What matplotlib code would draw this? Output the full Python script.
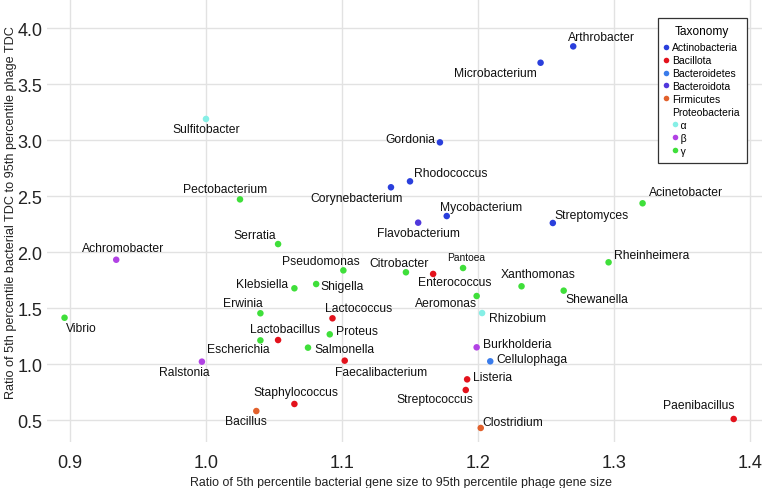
import matplotlib
matplotlib.use("Agg")
import matplotlib.pyplot as plt
from matplotlib.lines import Line2D

plt.rcParams["font.family"] = ["Liberation Sans", "DejaVu Sans"]

# data
genera = ["Arthrobacter", "Microbacterium", "Sulfitobacter", "Gordonia", "Rhodococcus",
          "Corynebacterium", "Pectobacterium", "Acinetobacter", "Mycobacterium",
          "Flavobacterium", "Streptomyces", "Serratia", "Achromobacter", "Rheinheimera",
          "Pantoea", "Pseudomonas", "Citrobacter", "Enterococcus", "Shigella",
          "Xanthomonas", "Klebsiella", "Shewanella", "Aeromonas", "Rhizobium", "Erwinia",
          "Vibrio", "Lactococcus", "Proteus", "Lactobacillus", "Escherichia",
          "Burkholderia", "Salmonella", "Faecalibacterium", "Cellulophaga", "Ralstonia",
          "Listeria", "Streptococcus", "Staphylococcus", "Bacillus", "Clostridium",
          "Paenibacillus"]
gene_ratio = [1.270, 1.246, 1.000, 1.172, 1.150, 1.136, 1.025, 1.321, 1.177, 1.156,
              1.255, 1.053, 0.934, 1.296, 1.189, 1.101, 1.147, 1.167, 1.081, 1.232,
              1.065, 1.263, 1.199, 1.203, 1.040, 0.896, 1.093, 1.091, 1.053, 1.040,
              1.199, 1.075, 1.102, 1.209, 0.997, 1.192, 1.191, 1.065, 1.037, 1.202,
              1.388]
tdc_ratio = [3.836, 3.690, 3.188, 2.979, 2.631, 2.578, 2.470, 2.435, 2.321, 2.262,
             2.259, 2.071, 1.931, 1.908, 1.857, 1.836, 1.819, 1.804, 1.714, 1.694,
             1.676, 1.655, 1.607, 1.455, 1.453, 1.413, 1.408, 1.265, 1.214, 1.211,
             1.149, 1.146, 1.030, 1.024, 1.021, 0.863, 0.768, 0.643, 0.580, 0.429,
             0.509]
taxonomy = ["Actinobacteria", "Actinobacteria", "α", "Actinobacteria", "Actinobacteria",
            "Actinobacteria", "γ", "γ", "Actinobacteria", "Bacteroidota",
            "Actinobacteria", "γ", "β", "γ", "γ", "γ", "γ", "Bacillota", "γ", "γ",
            "γ", "γ", "γ", "α", "γ", "γ", "Bacillota", "γ", "Bacillota", "γ",
            "β", "γ", "Bacillota", "Bacteroidetes", "β", "Bacillota", "Bacillota",
            "Bacillota", "Firmicutes", "Firmicutes", "Bacillota"]

colors = {
    "Actinobacteria": "#2a3fdc",
    "Bacillota": "#e3121c",
    "Bacteroidetes": "#3a7ceb",
    "Bacteroidota": "#5038dc",
    "Firmicutes": "#e2612c",
    "α": "#86efe6",
    "β": "#b142e4",
    "γ": "#3fdf3a",
}

# label offsets from the point, in pixels (dx right, dy down)
offsets = {
    "Arthrobacter": (28, -9), "Microbacterium": (-45, 10), "Sulfitobacter": (0, 10),
    "Gordonia": (-30, -3), "Rhodococcus": (41, -8), "Corynebacterium": (-34, 11),
    "Pectobacterium": (-15, -10), "Acinetobacter": (43, -11), "Mycobacterium": (34, -9),
    "Flavobacterium": (0, 10), "Streptomyces": (39, -8), "Serratia": (-23, -9),
    "Achromobacter": (7, -12), "Rheinheimera": (43, -7), "Pantoea": (3, -11),
    "Pseudomonas": (-22, -9), "Citrobacter": (-7, -9), "Enterococcus": (22, 8),
    "Shigella": (26, 2), "Xanthomonas": (17, -12), "Klebsiella": (-32, -4),
    "Shewanella": (33, 8), "Aeromonas": (-31, 7), "Rhizobium": (35, 5),
    "Erwinia": (-18, -10), "Vibrio": (17, 10), "Lactococcus": (26, -10),
    "Proteus": (27, -3), "Lactobacillus": (7, -11), "Escherichia": (-22, 9),
    "Burkholderia": (41, -3), "Salmonella": (36, 1), "Faecalibacterium": (36, 11),
    "Cellulophaga": (42, -2), "Ralstonia": (-18, 10), "Listeria": (25, -2),
    "Streptococcus": (-31, 9), "Staphylococcus": (1, -12), "Bacillus": (-10, 10),
    "Clostridium": (32, -6), "Paenibacillus": (-35, -14),
}

fig = plt.figure(figsize=(7.62, 4.89), dpi=100)
ax = fig.add_axes([47 / 762, 46 / 489, 715 / 762, 443 / 489])

ax.scatter(gene_ratio, tdc_ratio, c=[colors[t] for t in taxonomy], s=22,
           linewidths=0, zorder=3)

for name, x, y in zip(genera, gene_ratio, tdc_ratio):
    dx, dy = offsets[name]
    ax.annotate(name, (x, y), xytext=(dx, -dy), textcoords="offset pixels",
                ha="center", va="center", fontsize=7.4 if name == "Pantoea" else 8.7,
                color="#111111", zorder=4)

ax.set_xlim(0.8831, 1.4088)
ax.set_ylim(0.3036, 4.259)
ax.set_xticks([0.9, 1.0, 1.1, 1.2, 1.3, 1.4])
ax.set_yticks([0.5, 1.0, 1.5, 2.0, 2.5, 3.0, 3.5, 4.0])
ax.tick_params(length=0, labelsize=13, labelcolor="#222222")
ax.tick_params(axis="x", pad=9)
ax.tick_params(axis="y", pad=3.5)
ax.grid(color="#e2e2e2", linewidth=1)
ax.set_axisbelow(True)
for s in ax.spines.values():
    s.set_visible(False)

ax.set_xlabel("Ratio of 5th percentile bacterial gene size to 95th percentile phage gene size",
              fontsize=8.9, color="#222222")
ax.set_ylabel("Ratio of 5th percentile bacterial TDC to 95th percentile phage TDC",
              fontsize=9.1, color="#222222")
ax.xaxis.set_label_coords(0.495, -0.077)
ax.yaxis.set_label_coords(-0.042, 0.521)

# legend
leg_names = ["Actinobacteria", "Bacillota", "Bacteroidetes", "Bacteroidota", "Firmicutes",
             "Proteobacteria", "α", "β", "γ"]
handles = []
for n in leg_names:
    if n == "Proteobacteria":
        handles.append(Line2D([], [], linestyle="none", marker=None))
    else:
        handles.append(Line2D([], [], linestyle="none", marker="o", markersize=4,
                              markerfacecolor=colors[n], markeredgewidth=0))
labels = [("   " + n if n in ("α", "β", "γ") else n) for n in leg_names]
leg = ax.legend(handles, labels, title="Taxonomy", loc="upper right",
                bbox_to_anchor=(700 / 715, 1 - 19 / 443),
                bbox_transform=ax.transAxes, fontsize=7.5, title_fontsize=8.6,
                frameon=True, fancybox=False, edgecolor="#333333", framealpha=1,
                handlelength=0.27, handletextpad=0.4, labelspacing=0.28,
                borderpad=0.72, borderaxespad=0)
leg.get_frame().set_linewidth(0.9)
leg._legend_box.sep = 3.5
for h, n in zip(leg.legend_handles, leg_names):
    if n in ("α", "β", "γ"):
        h.set_xdata([v + 6.5 for v in h.get_xdata()])

fig.savefig("out.png", dpi=100)
